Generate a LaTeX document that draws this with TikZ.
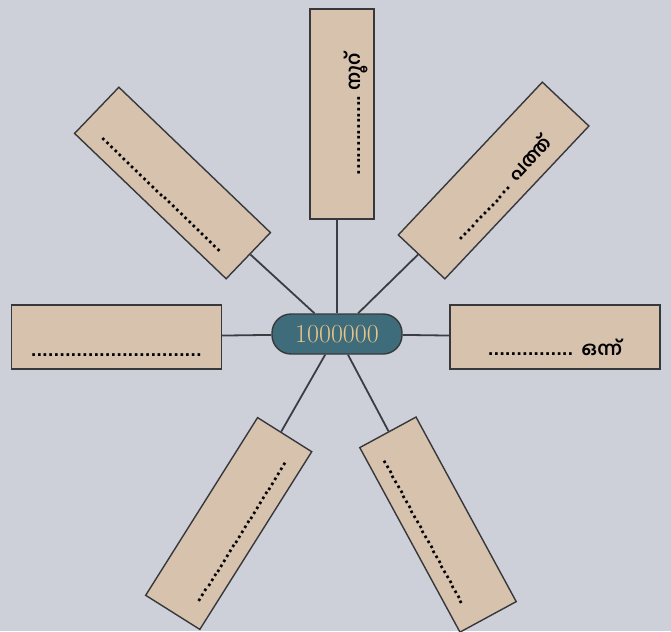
\documentclass[tikz,border=0pt]{standalone}
\usepackage{fontspec}
\newfontfamily\malfont[Script=Malayalam]{Hind Kochi}
\newfontfamily\puntifont{DejaVu Sans}

\begin{document}
\begin{tikzpicture}[x=1pt,y=1pt,
  casella/.style={draw=bordo, fill=beige, line width=1.4pt,
    minimum width=210pt, minimum height=64pt, inner sep=0pt,
    text height=40pt, text depth=4pt,
    font=\puntifont\fontsize{15}{18}\selectfont\bfseries},
  centro/.style={draw=bordo, fill=petrolio, line width=1.4pt,
    rounded corners=19pt, minimum width=130pt, minimum height=40pt,
    text=oro, font=\fontsize{26}{28}\selectfont},
  raggio/.style={draw=linea, line width=1.8pt}]

% Colori
\definecolor{sfondo}{HTML}{CDD0D8}
\definecolor{beige}{HTML}{D7C2AE}
\definecolor{bordo}{HTML}{37383B}
\definecolor{petrolio}{HTML}{3F6C7A}
\definecolor{oro}{HTML}{E6C48A}
\definecolor{linea}{HTML}{3A3D42}

% Sfondo
\fill[sfondo] (0,0) rectangle (671,-631);
\useasboundingbox (0,0) rectangle (671,-631);

% Numero centrale
\node[centro] (hub) at (337,-334) {1000000};

% Caselle
\node[casella, rotate=90] (alto) at (342,-114) {..............\hspace{5pt}{\malfont\fontsize{19}{20}\selectfont നൂറ്}};
\node[casella, rotate=46.7] (altodx) at (493.6,-180.5) {.............\hspace{7pt}{\malfont\fontsize{19}{20}\selectfont പത്ത്}};
\node[casella] (destra) at (555,-337) {...............\hspace{8pt}{\malfont\fontsize{19}{20}\selectfont ഒന്ന്}};
\node[casella, rotate=-61.5] (bassodx) at (438,-524.6) {.............................};
\node[casella, rotate=57.8] (bassosx) at (228.7,-523.5) {.............................};
\node[casella, text height=42pt] (sinistra) at (116.3,-337) {..............................};
\node[casella, rotate=-43.8] (altosx) at (172.5,-183) {.............................};

% Raggi
\draw[raggio] (hub) -- (hub |- alto.west);
\draw[raggio] (hub) -- (altodx);
\draw[raggio] (hub) -- (destra);
\draw[raggio] (hub) -- (bassodx);
\draw[raggio] (hub) -- (bassosx);
\draw[raggio] (hub) -- (sinistra);
\draw[raggio] (hub) -- (altosx);

\end{tikzpicture}
\end{document}
